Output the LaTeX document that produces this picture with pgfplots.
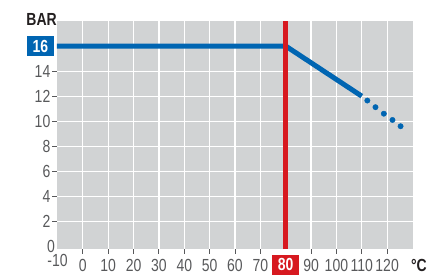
\documentclass[border=0pt]{standalone}
\usepackage{fontspec}
\setmainfont{Liberation Sans}[FakeStretch=0.8]
\usepackage{pgfplots}
\pgfplotsset{compat=1.18}
\definecolor{bg}{HTML}{D1D3D4}
\definecolor{lblue}{HTML}{0065B2}
\definecolor{lred}{HTML}{D71920}
\definecolor{tgray}{HTML}{58595B}
\definecolor{tdark}{HTML}{231F20}
\begin{document}
\begin{tikzpicture}
\begin{axis}[
  scale only axis, width=356pt, height=228pt,
  xmin=-10.2, xmax=130.2, ymin=-0.2, ymax=18,
  axis background/.style={fill=bg},
  axis line style={draw=none},
  xtick pos=bottom, ytick pos=left,
  xtick={0,10,...,70,90,100,110,120},
  ytick={2,4,...,14},
  grid=major,
  major grid style={white, line width=1.2pt},
  tick align=outside, major tick length=4.5pt,
  tick style={tgray, line width=0.9pt},
  ticklabel style={font=\fontsize{17.5}{19}\selectfont, text=tgray, inner sep=0pt},
  xticklabel style={anchor=north, yshift=-5.5pt},
  yticklabel style={anchor=east, xshift=-2pt},
  /pgf/number format/assume math mode=true,
  extra x ticks={-10}, extra x tick labels={-10},
  extra y ticks={0}, extra y tick labels={0},
  extra tick style={grid=none, major tick length=0pt},
  clip=false,
]
\addplot[lblue, line width=5pt, line join=miter] coordinates {(-10.2,16) (80,16) (110,12)};
\addplot[only marks, mark=*, mark size=2.7pt, color=lblue] coordinates {(112.2,11.65) (115.4,11.12) (118.7,10.6) (122.1,10.1) (125.3,9.6)};
\addplot[lred, line width=5pt] coordinates {(80,-0.2) (80,18)};
\node[anchor=east, fill=lblue, text=white, font=\fontsize{17.5}{19}\selectfont\bfseries, minimum width=27pt, minimum height=20.5pt, inner sep=0pt] at (axis cs:-10.2,16) [xshift=-3pt] {16};
\node[anchor=north, fill=lred, text=white, font=\fontsize{17.5}{19}\selectfont\bfseries, minimum width=27pt, minimum height=20pt, inner sep=0pt] at (axis cs:80,-0.2) [yshift=-5.5pt] {80};
\node[anchor=base east, text=tdark, font=\fontsize{17.5}{19}\selectfont\bfseries, inner sep=0pt] at (rel axis cs:0,1) [yshift=-4pt] {BAR};
\node[anchor=base east, text=tdark, font=\fontsize{17.5}{19}\selectfont\bfseries, inner sep=0pt] at (rel axis cs:1,0) [xshift=14pt, yshift=-22.5pt] {°C};
\end{axis}
\pgfresetboundingbox
\path (current axis.south west) ++(-57pt,-25pt) rectangle ([xshift=16pt,yshift=21pt]current axis.north east);
\end{tikzpicture}
\end{document}
